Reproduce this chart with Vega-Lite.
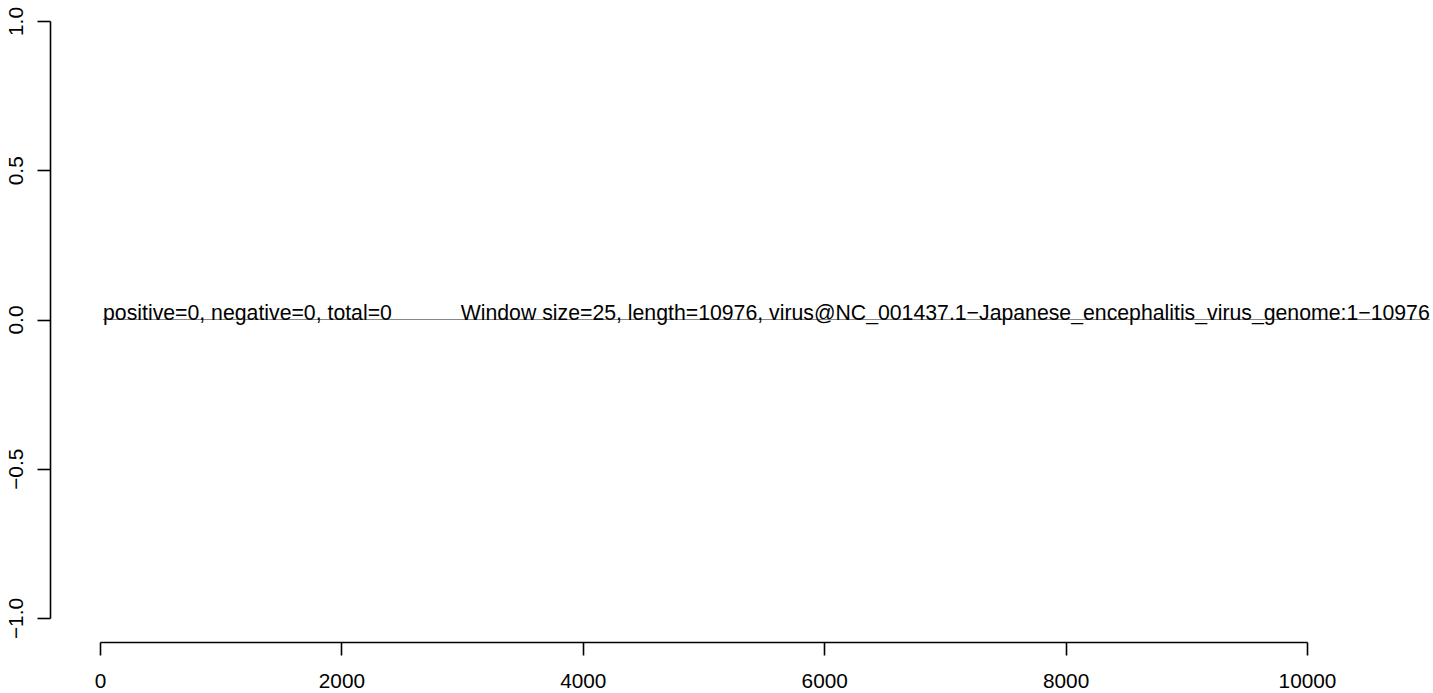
{
  "$schema": "https://vega.github.io/schema/vega-lite/v6.json",
  "width": 1207,
  "height": 597,
  "autosize": {"type": "none"},
  "padding": {"left": 100, "top": 21, "right": 126, "bottom": 75},
  "background": "white",
  "config": {
    "view": {"stroke": null},
    "font": "Liberation Sans",
    "axis": {
      "grid": false,
      "domainColor": "#000",
      "tickColor": "#000",
      "labelColor": "#000",
      "labelFont": "Liberation Sans",
      "labelFontSize": 20.8,
      "tickSize": 13,
      "domainWidth": 1.6,
      "tickWidth": 1.6,
      "title": null
    }
  },
  "layer": [
    {
      "data": {"values": [{"pos": 25, "val": 0}, {"pos": 11017, "val": 0}]},
      "mark": {"type": "line", "color": "#888888", "strokeWidth": 1.1, "clip": false},
      "encoding": {
        "x": {
          "field": "pos", "type": "quantitative",
          "scale": {"domain": [0, 10000], "nice": false, "zero": false},
          "axis": {"values": [0, 2000, 4000, 6000, 8000, 10000], "offset": 24, "labelPadding": 16, "labelBaseline": "top", "labelFlush": false, "labelOverlap": false, "format": "d"}
        },
        "y": {
          "field": "val", "type": "quantitative",
          "scale": {"domain": [-1, 1], "nice": false, "zero": false},
          "axis": {"values": [-1, -0.5, 0, 0.5, 1], "format": ".1f", "offset": 50, "labelAngle": -90, "labelAlign": "center", "labelBaseline": "alphabetic", "labelPadding": 15, "labelFlush": false, "labelOverlap": false}
        }
      }
    },
    {
      "data": {"values": [{"pos": 25, "val": 0, "label": "positive=0, negative=0, total=0"}]},
      "mark": {"type": "text", "align": "left", "baseline": "alphabetic", "fontSize": 21.25, "font": "Liberation Sans", "color": "#000", "clip": false},
      "encoding": {
        "x": {"field": "pos", "type": "quantitative"},
        "y": {"field": "val", "type": "quantitative"},
        "text": {"field": "label"}
      }
    },
    {
      "data": {"values": [{"pos": 11017, "val": 0, "label": "Window size=25, length=10976, virus@NC_001437.1−Japanese_encephalitis_virus_genome:1−10976"}]},
      "mark": {"type": "text", "align": "right", "baseline": "alphabetic", "fontSize": 21.25, "font": "Liberation Sans", "color": "#000", "clip": false},
      "encoding": {
        "x": {"field": "pos", "type": "quantitative"},
        "y": {"field": "val", "type": "quantitative"},
        "text": {"field": "label"}
      }
    }
  ]
}
